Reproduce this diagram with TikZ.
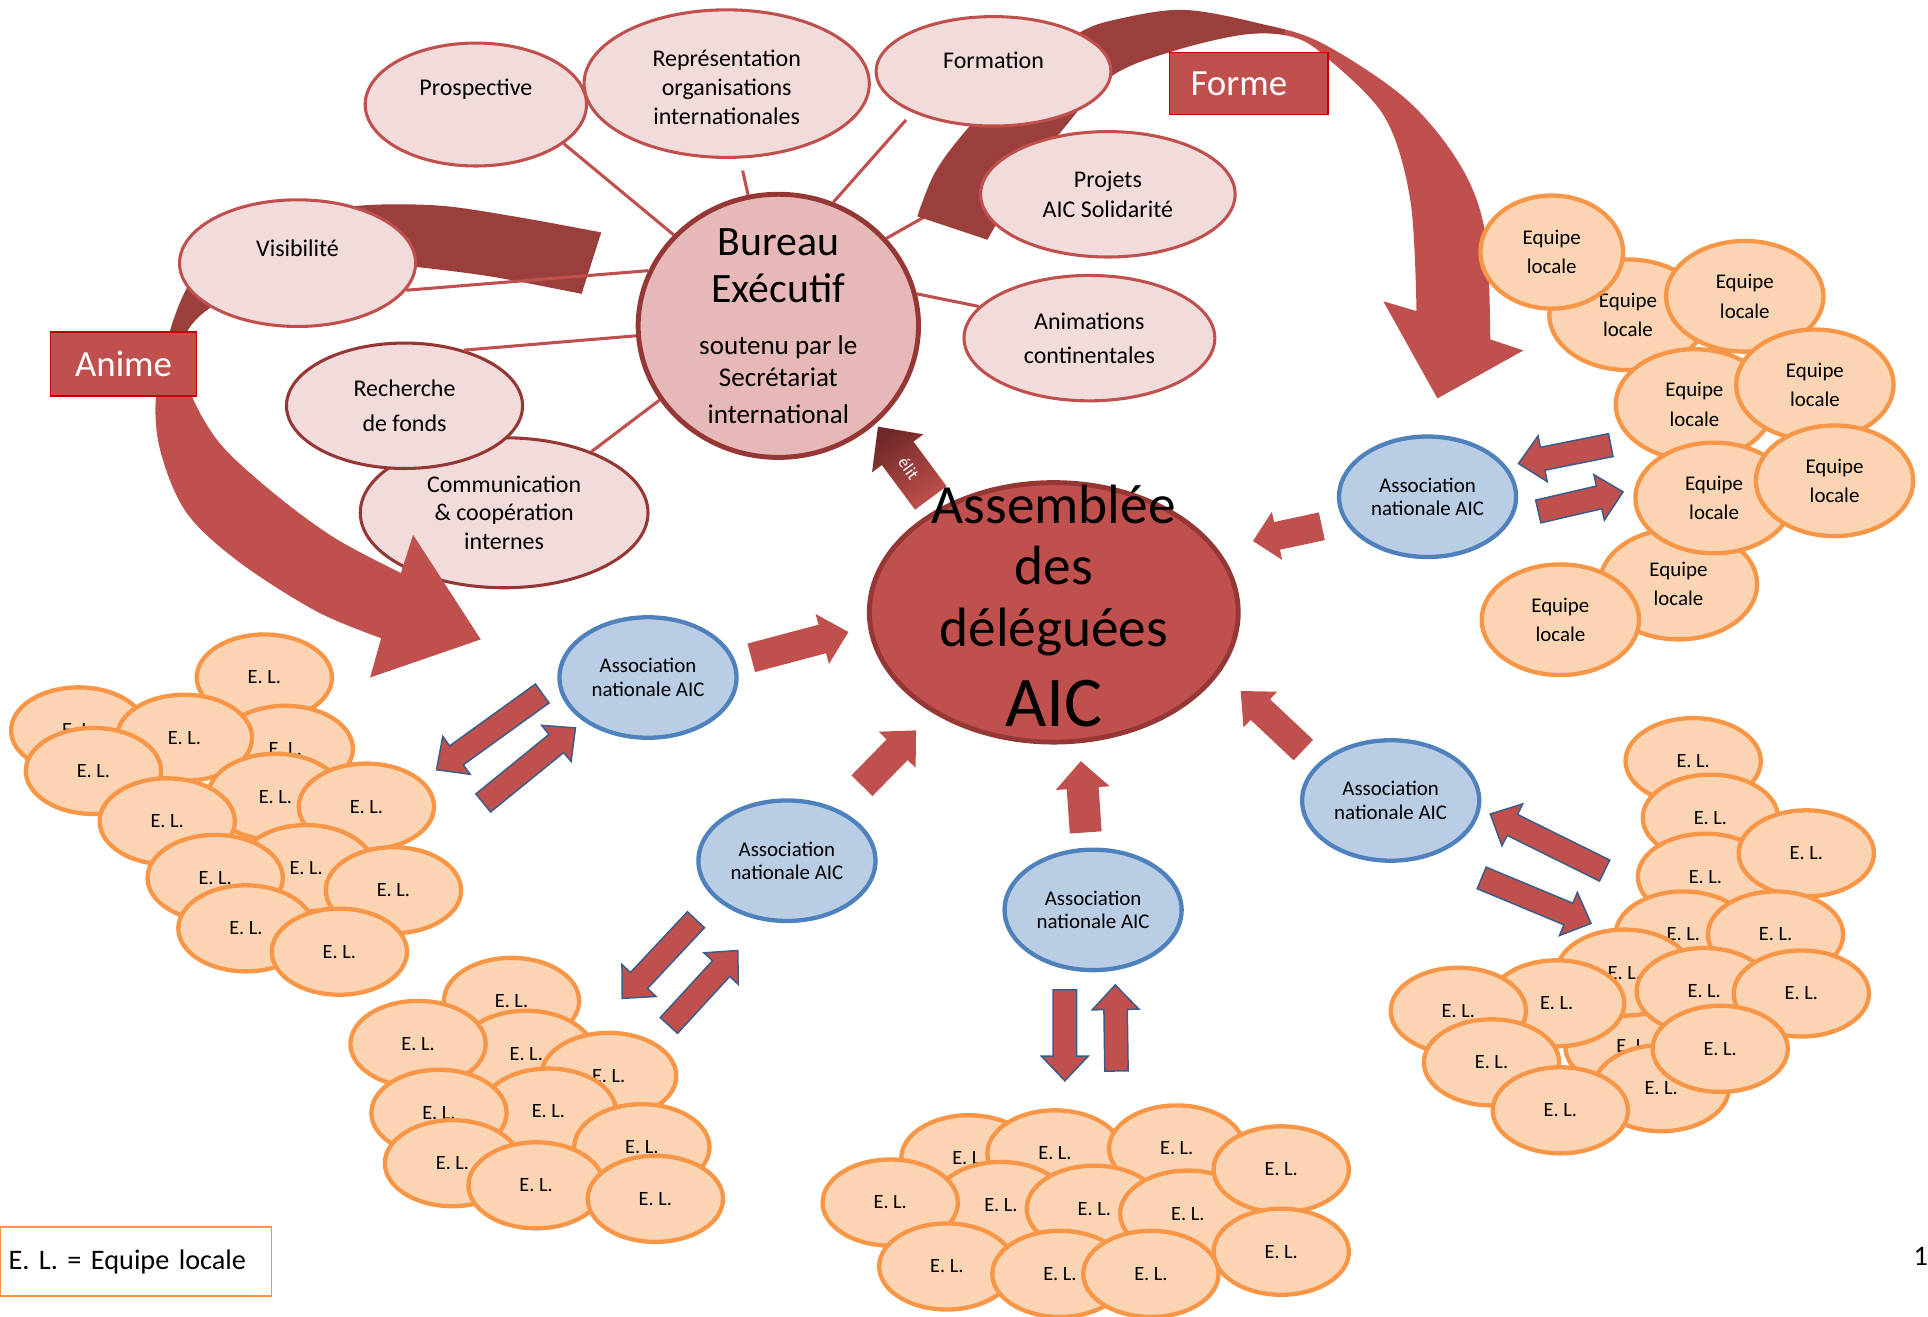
\documentclass[tikz,border=0pt]{standalone}
\usepackage{fontspec}
\setmainfont{Carlito}
\usetikzlibrary{shapes.geometric, calc, positioning}
\definecolor{aicred}{HTML}{C0504D}
\definecolor{aicdark}{HTML}{9B3F3D}
\definecolor{aicrim}{HTML}{953735}
\definecolor{aicpink}{HTML}{F2DCDB}
\definecolor{aicrose}{HTML}{E6B9B8}
\definecolor{aicbox}{HTML}{C00000}
\definecolor{assoblue}{HTML}{4F81BD}
\definecolor{assofill}{HTML}{B9CDE5}
\definecolor{arrowline}{HTML}{385D8A}
\definecolor{elorange}{HTML}{F79646}
\definecolor{elfill}{HTML}{FBD4B4}
\pgfdeclarelayer{back}
\pgfsetlayers{back,main}
\tikzset{every node/.style={inner sep=0pt},
  theme/.style={ellipse, draw=aicred, fill=aicpink, line width=2.5pt, align=center, font=\fontsize{19.5}{23.5}\selectfont},
  bureau/.style={ellipse, draw=aicrim, fill=aicrose, line width=4pt, minimum width=228pt, minimum height=214pt},
  assemblee/.style={ellipse, draw=aicrim, fill=aicred, line width=4pt, minimum width=300pt, minimum height=211pt},
  asso/.style={ellipse, draw=assoblue, fill=assofill, line width=3.5pt, minimum width=144pt, minimum height=98pt, align=center, font=\fontsize{17}{19}\selectfont},
  el/.style={ellipse, draw=elorange, fill=elfill, line width=3.5pt, minimum width=110pt, minimum height=70pt, font=\fontsize{16.5}{19}\selectfont},
  equipe/.style={ellipse, draw=elorange, fill=elfill, line width=3.5pt, minimum width=128pt, minimum height=90pt, align=center, font=\fontsize{17}{24}\selectfont},
  tag/.style={draw=aicbox, fill=aicred, line width=1pt, text=white, font=\fontsize{30}{32}\selectfont},
  link/.style={draw=aicred, line width=2.5pt},
  toassemblee/.style={fill=aicred},
  exchange/.style={fill=aicred, draw=arrowline, line width=1.2pt}}
\newcommand\blockarrow[6][]{%
  \coordinate (ah) at ($(#3)!#6!(#2)$);
  \path[#1] ($(#2)!#4!90:(#3)$) -- ($(ah)!#4!90:(#3)$) -- ($(ah)!#5!90:(#3)$) -- (#3)
    -- ($(ah)!#5!-90:(#3)$) -- ($(ah)!#4!-90:(#3)$) -- ($(#2)!#4!-90:(#3)$) -- cycle;}

\begin{document}
\begin{tikzpicture}[x=1pt, y=-1pt]
	\useasboundingbox (0,0) rectangle (1568,1071);
	\path[save path=\formeshape] plot[smooth, tension=0.55] coordinates {(746,176) (760,141) (784,108) (830,58) (877,27) (907,16) (962,8) (1024,19) (1075,35) (1144,81) (1188,135) (1208,190) (1212,276)}
		-- (1239,285) -- (1169,324) -- (1125,245)
		-- plot[smooth, tension=0.55] coordinates {(1152,253) (1147,163) (1126,95) (1078,46) (1051,30) (1013,28) (956,41) (904,62) (863,107) (830,150) (803,195)} -- cycle;
	\path[save path=\animeshape] plot[smooth, tension=0.55] coordinates {(489,189) (418,176) (354,167) (285,168) (215,183) (168,212) (151,236) (138,270) (127,320) (130,365) (151,416) (193,456) (257,497) (310,519)}
		-- (301,551) -- (391,520) -- (336,435)
		-- plot[smooth, tension=0.55] coordinates {(326,466) (273,438) (225,403) (180,362) (156,322) (150,290) (152,270) (170,251) (210,230) (290,212) (338,217) (400,225) (473,239)} -- cycle;

	\node[theme, minimum width=192pt, minimum height=103pt] (Visibilite) at (242,214) {Visibilité\\[-6pt]\strut};
	\node[theme, minimum width=180pt, minimum height=100pt] (Prospective) at (387,85) {Prospective\\[-3pt]\strut};
	\node[theme, minimum width=232pt, minimum height=120pt] (Representation) at (591,68) {\strut\\[-21pt]Représentation\\organisations\\internationales};
	\node[theme, minimum width=191pt, minimum height=89pt] (Formation) at (808,58) {Formation\\[-13pt]\strut};
	\node[theme, minimum width=207pt, minimum height=102pt, font=\fontsize{19.5}{24}\selectfont] (Projets) at (901,158) {Projets\\AIC Solidarité};
	\node[theme, minimum width=204pt, minimum height=102pt, font=\fontsize{19.5}{28}\selectfont] (Animations) at (886,275) {Animations\\continentales};
	\node[theme, draw=aicrim, minimum width=234pt, minimum height=122pt] (Communication) at (410,417) {Communication\\\& coopération\\internes};
	\node[theme, draw=aicrim, minimum width=192pt, minimum height=102pt, font=\fontsize{19.5}{28}\selectfont] (Recherche) at (329,330) {Recherche\\de fonds};
	\node[bureau] (Bureau) at (633,265) {};

	\begin{pgfonlayer}{back}
		\draw[link] (Bureau.39) -- (Projets.176);
		\begin{scope}
			\clip (0,0) rectangle (1045,400);
			\fill[aicdark, use path=\formeshape];
		\end{scope}
		\begin{scope}
			\clip (1045,0) rectangle (1568,400);
			\fill[aicred, use path=\formeshape];
		\end{scope}
		\begin{scope}
			\clip (0,0) rectangle (700,296);
			\fill[aicdark, use path=\animeshape];
		\end{scope}
	\end{pgfonlayer}
	\begin{scope}
		\clip (0,296) rectangle (700,700);
		\fill[aicred, use path=\animeshape];
	\end{scope}

	\draw[link] (Prospective.-24) -- (Bureau.139);
	\draw[link, shorten <=10pt] (Representation.-80) -- (Bureau.103);
	\draw[link, shorten <=8pt] (Formation.207) -- (Bureau.66);
	\draw[link] (Visibilite.-14) -- (Bureau.157);
	\draw[link] (Recherche.43) -- (Bureau.184);
	\draw[link] (Communication.35) -- (Bureau.212);
	\draw[link] (Bureau.13) -- (Animations.164);
	\node[font=\fontsize{34}{38}\selectfont, align=center] (BureauTitle) at (633,216) {Bureau\\Exécutif};
	\node[font=\fontsize{22}{26}\selectfont, align=center] (BureauSub) at (633,309) {soutenu par le\\Secrétariat\\[4pt]international};

	\coordinate (ElitTail) at (757,405);
	\coordinate (ElitTip) at (714,347);
	\blockarrow[top color=aicrim!75!black, bottom color=aicred, shading angle=36]{ElitTail}{ElitTip}{16pt}{26pt}{27pt}
	\node[rotate=-54, text=white, font=\fontsize{14}{16}\selectfont] (Elit) at (739,381) {élit};

	\node[tag, minimum width=119pt, minimum height=52pt] (Anime) at (100.5,296) {Anime};
	\node[tag, minimum width=129pt, minimum height=50pt] (Forme) at (1015.5,68) {\hspace*{-16pt}Forme};

	\node[assemblee] (Assemblee) at (857,498) {};
	\node[font=\fontsize{45}{50}\selectfont, align=center] (AssembleeText) at (857,464) {Assemblée\\des\\déléguées};
	\node[font=\fontsize{58}{60}\selectfont] (AssembleeAIC) at (857,572) {AIC};

	\coordinate (A1s) at (611,535); \coordinate (A1e) at (690,514);
	\coordinate (A2s) at (701,639); \coordinate (A2e) at (745,594);
	\coordinate (A3s) at (883,677); \coordinate (A3e) at (879,619);
	\coordinate (A4s) at (1060,610); \coordinate (A4e) at (1009,562);
	\coordinate (A5s) at (1075,428); \coordinate (A5e) at (1019,440);
	\blockarrow[toassemblee]{A1s}{A1e}{12pt}{21pt}{22pt}
	\blockarrow[toassemblee]{A2s}{A2e}{12pt}{21pt}{22pt}
	\blockarrow[toassemblee]{A3s}{A3e}{13pt}{22pt}{22pt}
	\blockarrow[toassemblee]{A4s}{A4e}{11.5pt}{20pt}{22pt}
	\blockarrow[toassemblee]{A5s}{A5e}{11.5pt}{20pt}{20pt}

	\node[asso] (Asso1) at (527,551) {Association\\nationale AIC};
	\node[asso] (Asso2) at (640,700) {Association\\nationale AIC};
	\node[asso] (Asso3) at (889,740) {Association\\nationale AIC};
	\node[asso] (Asso4) at (1131,651) {Association\\nationale AIC};
	\node[asso] (Asso5) at (1161,404) {Association\\nationale AIC};

	\coordinate (L1s) at (441,564); \coordinate (L1e) at (355,626);
	\coordinate (L2s) at (393,653); \coordinate (L2e) at (468,592);
	\coordinate (M1s) at (566,748); \coordinate (M1e) at (506,812);
	\coordinate (M2s) at (544,834); \coordinate (M2e) at (600,773);
	\coordinate (N1s) at (866,805); \coordinate (N1e) at (866,879);
	\coordinate (N2s) at (908,871); \coordinate (N2e) at (907,801);
	\coordinate (R1s) at (1305,708); \coordinate (R1e) at (1212,662);
	\coordinate (R2s) at (1205,714); \coordinate (R2e) at (1294,751);
	\coordinate (S1s) at (1310,362); \coordinate (S1e) at (1235,377);
	\coordinate (S2s) at (1251,416); \coordinate (S2e) at (1320,400);
	\foreach \s/\e in {L1s/L1e, L2s/L2e, M1s/M1e, M2s/M2e, N1s/N1e, N2s/N2e, R1s/R1e, R2s/R2e, S1s/S1e, S2s/S2e}
		\blockarrow[exchange]{\s}{\e}{9.5pt}{19pt}{20pt};

	\foreach \x/\y [count=\i] in {215/551, 64/594, 232/609, 150/600, 76/627, 224/648, 298/656, 136/668, 249/706, 175/714, 320/724, 200/755, 276/774}
		\node[el] (ElWest\i) at (\x,\y) {E. L.};
	\foreach \x/\y [count=\i] in {416/814, 428/857, 340/849, 495/875, 446/904, 357/905, 522/933, 368/946, 436/964, 533/975}
		\node[el] (ElSouthWest\i) at (\x,\y) {E. L.};
	\foreach \x/\y [count=\i] in {788/942, 858/938, 957/934, 814/980, 724/978, 890/983, 966/987, 1042/951, 1042/1018, 770/1030, 862/1036, 936/1036}
		\node[el] (ElSouth\i) at (\x,\y) {E. L.};
	\foreach \x/\y [count=\i] in {1377/619, 1391/665, 1387/713, 1469/694, 1369/760, 1444/760, 1328/851, 1321/791, 1386/806, 1465/808, 1266/816, 1186/822, 1351/885, 1399/853, 1213/864, 1269/903}
		\node[el] (ElEast\i) at (\x,\y) {E. L.};
	\node[equipe] (Equipe1) at (1324,256) {Equipe\\locale};
	\node[equipe, minimum width=116pt, minimum height=92pt] (Equipe2) at (1262,205) {Equipe\\locale};
	\foreach \x/\y [count=\i from 3] in {1419/241, 1378/329, 1476/313, 1365/475, 1394/405, 1492/391, 1269/504}
		\node[equipe] (Equipe\i) at (\x,\y) {Equipe\\locale};

	\node[draw=elorange, line width=1.2pt, fill=white, minimum width=221pt, minimum height=56pt, text width=207pt, align=left, font=\fontsize{23}{26}\selectfont] (Legend) at (110.5,1026) {E. L. = Equipe locale};
	\node[anchor=west, font=\fontsize{23}{26}\selectfont] (PageNum) at (1556,1022) {1};
\end{tikzpicture}
\end{document}
